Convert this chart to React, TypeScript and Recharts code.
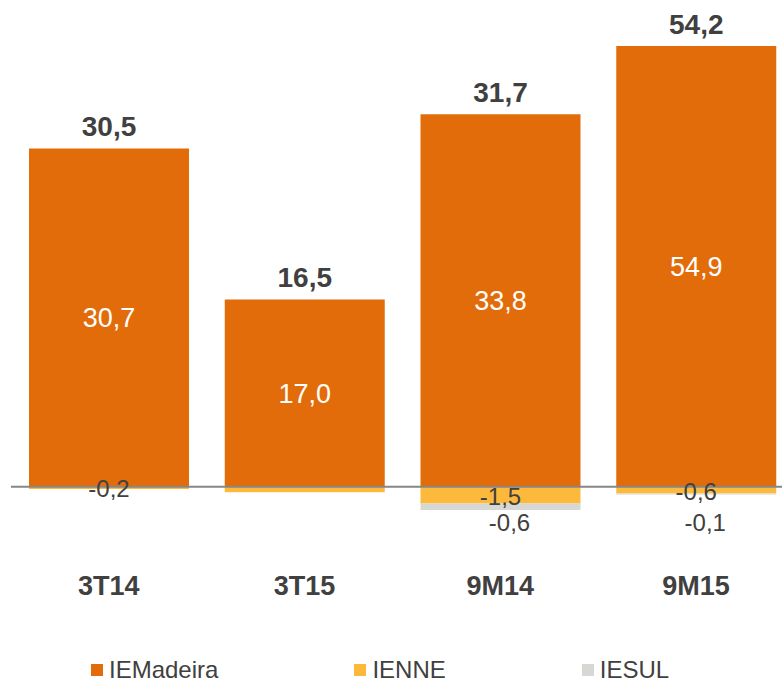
import React from "react";
import {
  BarChart,
  Bar,
  XAxis,
  YAxis,
  LabelList,
  ReferenceLine,
} from "recharts";

const periods = ["3T14", "3T15", "9M14", "9M15"];
const ieMadeira = [30.7, 17.0, 33.8, 54.9];
const ienne = [-0.2, -0.5, -1.5, -0.6];
const iesul = [0, 0, -0.6, -0.1];
const totals = [30.5, 16.5, 31.7, 54.2];
// the reference hides some of the small labels
const ienneShown = [true, false, true, true];
const iesulShown = [false, false, true, true];

const series = [
  { key: "IEMadeira", color: "#E36C0A" },
  { key: "IENNE", color: "#FDB93C" },
  { key: "IESUL", color: "#D7D7D4" },
];

const fmt = (v: number) => v.toFixed(1).replace(".", ",");

const data = periods.map((p, i) => ({
  period: p,
  IEMadeira: ieMadeira[i],
  IENNE: ienne[i],
  IESUL: iesul[i],
  totalLabel: fmt(totals[i]),
  madeiraLabel: fmt(ieMadeira[i]),
  ienneLabel: ienneShown[i] ? fmt(ienne[i]) : "",
  iesulLabel: iesulShown[i] ? fmt(iesul[i]) : "",
}));

const FONT = "'Liberation Sans', Arial, sans-serif";
const TEXT = "#404040";
const MARGIN_TOP = 46;

const box = (props: any) => {
  const vb = props.viewBox || props;
  const x = Number(vb.x);
  const y = Number(vb.y);
  const w = Number(vb.width);
  const h = Number(vb.height);
  return { cx: x + w / 2, top: Math.min(y, y + h), bottom: Math.max(y, y + h) };
};

const TotalLabel = (props: any) => {
  if (!props.value) return null;
  const { cx, top } = box(props);
  return (
    <text x={cx} y={Math.max(top, MARGIN_TOP) - 22} dy="0.35em" textAnchor="middle"
      fill={TEXT} fontSize={28} fontWeight="bold" fontFamily={FONT}>
      {props.value}
    </text>
  );
};

const InsideLabel = (props: any) => {
  const { cx, top, bottom } = box(props);
  return (
    <text x={cx} y={(top + bottom) / 2} dy="0.35em" textAnchor="middle"
      fill="#FFFFFF" fontSize={27} fontFamily={FONT}>
      {props.value}
    </text>
  );
};

const IenneLabel = (props: any) => {
  if (!props.value) return null;
  const { cx, top, bottom } = box(props);
  return (
    <text x={cx} y={(top + bottom) / 2 + 1} dy="0.35em" textAnchor="middle"
      fill={TEXT} fontSize={24} fontFamily={FONT}>
      {props.value}
    </text>
  );
};

const IesulLabel = (props: any) => {
  if (!props.value) return null;
  const { cx, bottom } = box(props);
  return (
    <text x={cx + 9} y={Math.max(bottom + 9, 523)} dy="0.35em" textAnchor="middle"
      fill={TEXT} fontSize={24} fontFamily={FONT}>
      {props.value}
    </text>
  );
};

export default function App() {
  return (
    <div
      style={{
        position: "absolute",
        left: 0,
        top: 0,
        width: 782,
        height: 682,
        overflow: "hidden",
        background: "#FFFFFF",
        fontFamily: FONT,
      }}
    >
      <BarChart
        width={800}
        height={600}
        data={data}
        stackOffset="sign"
        margin={{ top: MARGIN_TOP, right: 6, bottom: 0, left: 11 }}
      >
        <XAxis
          dataKey="period"
          axisLine={false}
          tickLine={false}
          tickMargin={6}
          height={36}
          interval={0}
          tick={{ fill: TEXT, fontSize: 27, fontWeight: "bold", fontFamily: FONT }}
        />
        <YAxis hide type="number" domain={[-7, 40]} allowDataOverflow />
        <Bar dataKey="IEMadeira" stackId="a" fill={series[0].color} barSize={160} isAnimationActive={false}>
          <LabelList dataKey="madeiraLabel" content={InsideLabel} />
          <LabelList dataKey="totalLabel" content={TotalLabel} />
        </Bar>
        <Bar dataKey="IENNE" stackId="a" fill={series[1].color} barSize={160} isAnimationActive={false}>
          <LabelList dataKey="ienneLabel" content={IenneLabel} />
        </Bar>
        <Bar dataKey="IESUL" stackId="a" fill={series[2].color} barSize={160} isAnimationActive={false}>
          <LabelList dataKey="iesulLabel" content={IesulLabel} />
        </Bar>
        <ReferenceLine y={0} stroke="#868686" strokeWidth={2} />
      </BarChart>
      <div
        style={{
          position: "absolute",
          left: 91,
          top: 656,
          display: "flex",
          gap: 136,
          alignItems: "center",
          fontSize: 24,
          color: TEXT,
          lineHeight: "normal",
        }}
      >
        {series.map((s) => (
          <div key={s.key} style={{ display: "flex", alignItems: "center" }}>
            <span style={{ width: 12, height: 12, background: s.color, marginRight: 6, display: "inline-block" }} />
            <span>{s.key}</span>
          </div>
        ))}
      </div>
    </div>
  );
}
